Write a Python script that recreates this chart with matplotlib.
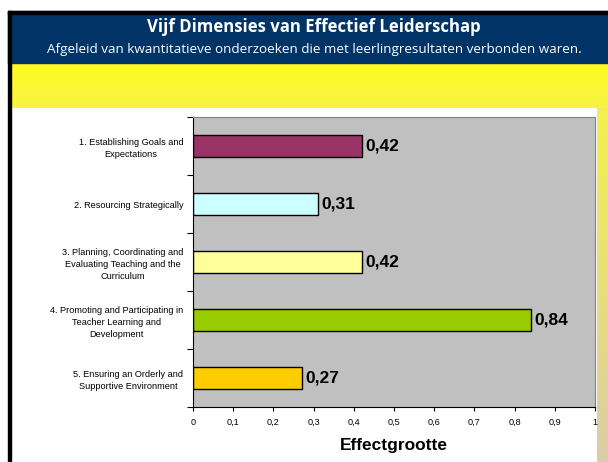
import numpy as np
import matplotlib
matplotlib.use("Agg")
import matplotlib.pyplot as plt
from matplotlib.patches import Rectangle

# data
categories = ["1. Establishing Goals and\nExpectations",
              "2. Resourcing Strategically",
              "3. Planning, Coordinating and\nEvaluating Teaching and the\nCurriculum",
              "4. Promoting and Participating in\nTeacher Learning and\nDevelopment",
              "5. Ensuring an Orderly and\nSupportive Environment"]
effect = [0.42, 0.31, 0.42, 0.84, 0.27]
bar_colors = ["#993366", "#CCFFFF", "#FFFF99", "#99CC00", "#FFCC00"]
xticks = [0, 0.1, 0.2, 0.3, 0.4, 0.5, 0.6, 0.7, 0.8, 0.9, 1]
title = "Vijf Dimensies van Effectief Leiderschap"
subtitle = "Afgeleid van kwantitatieve onderzoeken die met leerlingresultaten verbonden waren."

W, H = 608, 462
fig = plt.figure(figsize=(W / 100, H / 100), dpi=100)

# slide background, pixel coordinates (y down)
bg = fig.add_axes([0, 0, 1, 1])
bg.set_xlim(0, W)
bg.set_ylim(H, 0)
bg.axis("off")
bg.add_patch(Rectangle((0, 0), W, H, color="white"))
# right gradient strip
grad = np.linspace(0, 1, 100)[:, None]
strip = np.array([[0.97, 0.96, 0.25]]) * (1 - grad) + np.array([[0.86, 0.80, 0.66]]) * grad
bg.imshow(strip[:, None, :], extent=(597, W, H, 62), aspect="auto", zorder=1)
# yellow band
band = np.array([[1.0, 0.99, 0.13]]) * (1 - grad) + np.array([[0.97, 0.95, 0.27]]) * grad
bg.imshow(band[:, None, :], extent=(11, W, 108, 62), aspect="auto", zorder=1)
# navy header
bg.add_patch(Rectangle((8, 11), W - 8, 52, color="#003366", zorder=2))
bg.add_patch(Rectangle((8, 11), W - 8, 2.5, color="black", zorder=3))
# left black border
bg.add_patch(Rectangle((8, 11), 3, H - 11, color="black", zorder=3))
bg.set_xlim(0, W)
bg.set_ylim(H, 0)

fig.text(314 / W, 1 - 27 / H, title, color="white", ha="center", va="center",
         fontsize=12.1, fontweight="bold", family="Open Sans")
fig.text(314 / W, 1 - 50 / H, subtitle, color="white", ha="center", va="center",
         fontsize=9.7, family="Open Sans")

# chart
left, right, top, bottom = 193, 595, 117, 407
ax = fig.add_axes([left / W, 1 - bottom / H, (right - left) / W, (bottom - top) / H])
ax.set_facecolor("#C0C0C0")
y = np.arange(len(categories))
ax.barh(y, effect, height=0.38, color=bar_colors, edgecolor="black", linewidth=1.0)
for yi, v in zip(y, effect):
    ax.text(v + 0.01, yi, f"{v:.2f}".replace(".", ","), ha="left", va="center",
            fontsize=12.5, fontweight="bold", family="Liberation Sans")
ax.set_xlim(0, 1)
ax.set_ylim(len(categories) - 0.5, -0.5)
ax.set_xticks(xticks)
ax.set_xticklabels([("%g" % t).replace(".", ",") for t in xticks],
                   fontsize=6.6, family="Liberation Sans")
ax.set_yticks(y)
ax.set_yticklabels(categories, fontsize=6.6, family="Liberation Sans")
for lab in ax.get_yticklabels():
    lab.set_multialignment("center")
    lab.set_linespacing(1.4)
ax.tick_params(axis="y", which="major", length=0, pad=7)
ax.set_yticks(np.arange(-0.5, len(categories), 1), minor=True)
ax.tick_params(axis="y", which="minor", length=4, width=0.8, direction="out")
ax.tick_params(axis="x", length=3, width=0.8, direction="out", pad=5)
ax.set_xlabel("Effectgrootte", fontsize=12.5, fontweight="bold", family="Liberation Sans", labelpad=8)
for s in ["top", "right"]:
    ax.spines[s].set_color("#808080")
for s in ["left", "bottom"]:
    ax.spines[s].set_color("black")

fig.savefig("out.png", dpi=100)
